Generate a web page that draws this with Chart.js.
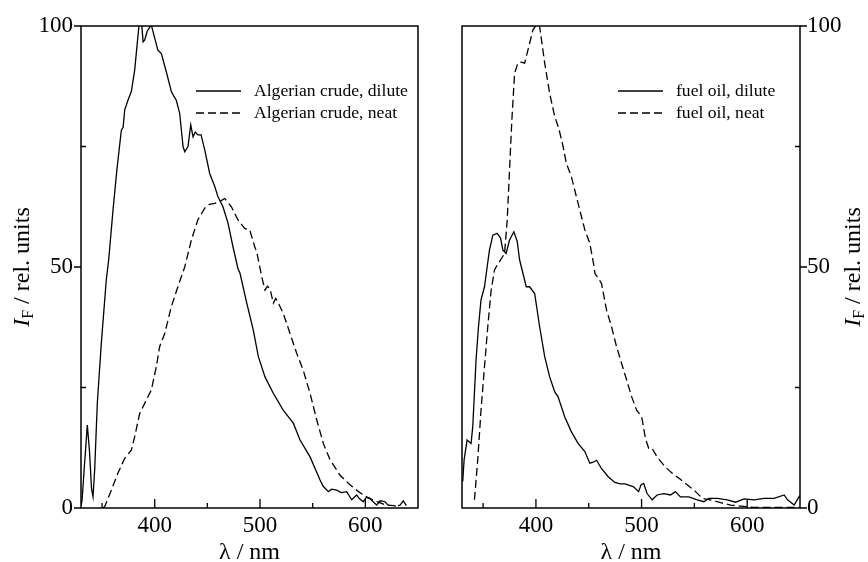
<!DOCTYPE html>
<html>
<head>
<meta charset="utf-8">
<script src="https://cdn.jsdelivr.net/npm/chart.js@4.4.1/dist/chart.umd.min.js"></script>
<style>
  html, body { margin: 0; padding: 0; background: #fff; }
  #wrap { position: relative; width: 868px; height: 562px; }
  .pane { position: absolute; top: 0; width: 434px; height: 562px; }
  #pl { left: 0; }
  #pr { left: 434px; }
</style>
</head>
<body>
<div id="wrap">
  <div class="pane" id="pl"><canvas id="cl" width="434" height="562"></canvas></div>
  <div class="pane" id="pr"><canvas id="cr" width="434" height="562"></canvas></div>
</div>
<script>
// ---------- data ----------
const xMajorTicks = [400, 500, 600];
const xMinorTicks = [350, 450, 550];
const yMajorTicks = [0, 50, 100];
const yMinorTicks = [25, 75];

const algDiluteX = [330,331,333,336,338,340,341.4,343,345.5,349.3,354,356.3,360.4,364,368.3,370,371.5,374.6,377.8,381,385,387,389,390.5,393,396.8,400,403,406.3,411,415.8,418,420.5,423.7,426.9,428.5,431.6,434.2,436.4,438.5,441,444,447.5,452.2,457,460,464.8,469.6,474.3,479,481,487.4,493.6,498.4,504.7,512.6,522,531.6,538,547.5,557,560,564.9,568,572.8,577,582.3,587,591.8,594,598,601,604,608,610.8,614,618.7,622,626,631,633,636,639];
const algDiluteY = [0.5,1.5,8,17.2,12,4,2.3,8,21.8,34.2,47.3,51.5,61.8,70,78.4,79,82.6,84.6,86.4,90.9,100,102,96.7,97.1,99,100.2,97.5,95,94.3,90.5,86.4,85.5,84.6,81.9,75,73.9,75,79.5,77,78,77.4,77.4,74.3,69.4,66.7,64.6,62.5,59.1,54.2,49.7,48.7,42.5,36.9,31.4,27.2,23.8,20.3,17.6,14.1,10.6,5.8,4.5,3.4,3.9,3.7,3.2,3.4,1.7,2.7,2.0,1.3,2.2,2.0,1.2,0.6,1.5,1.3,0.5,null,0.5,0.6,1.5,0.5];

const algNeatX = [351,352.5,358.8,365,371.5,377.8,381,385.7,390.5,396.8,401.5,404.7,409.5,415.8,422,428.5,434.8,441,447.5,452,457,461.7,466.5,469,472.8,479,485.4,490.2,495,497,501.6,504.7,507,509.5,512.6,515,517.4,522,528.5,534.8,541,547.5,553.8,560.1,566.5,576,585.5,593.4,601.3,611,620,627,632];
const algNeatY = [0,0.3,3.7,7.2,10.3,12,14.8,19.6,21.7,24.5,29.3,33.5,36.2,41.8,45.9,50,55.6,59.8,62.2,63,63.2,63.6,64.2,63.5,62.5,59.8,58,57.7,54.2,53,48,45.2,46,45.5,42.5,43.5,42.5,40.4,36.2,32.1,28.6,23.8,18.3,13.4,10,6.8,4.8,3.4,2.3,1.3,0.6,0.5,0.2];

const fuelDiluteX = [330.7,332,334.8,338.6,340.2,343.3,345.6,348,351.3,353.8,356,359.2,363.3,366.5,368.7,371.8,375,379.1,382.3,384.5,387.7,390.8,394,398.8,403.5,408.3,413,417.8,420.9,427.3,433.6,439.9,446.3,451,454.2,457.4,462,468.4,474.8,479.8,484.3,492.5,497.2,499.5,502,505.2,510,514.7,521,527.4,532,536.8,544.7,552.7,559,563.7,571.7,581.2,589.1,597,606.5,616,625.5,635,638.2,644.5,649,650];
const fuelDiluteY = [5.5,10,14.1,13.4,16.9,30.7,37.6,43.2,45.9,50,53.5,56.6,57,56,53.5,52.8,55.6,57.3,55.3,51.5,48.7,45.9,45.9,44.5,37.6,31.4,27.2,24.1,23.1,18.9,15.8,13.4,11.7,9.3,9.5,9.9,8.2,6.5,5.3,5.0,5.0,4.4,3.4,4.8,5.1,3.0,1.7,2.7,3.0,2.7,3.4,2.3,2.3,1.7,1.3,2.0,2.0,1.7,1.2,1.9,1.7,2.0,2.0,2.7,1.7,0.6,2.3,2.6];

const fuelNeatX = [341.8,344.9,348,351.3,354.4,357.6,360.8,362.3,365.5,370.3,372.8,375,377.2,379.8,382.9,386,389.3,392.4,397.2,401.3,403.5,408.3,413,417.8,421.6,425.7,428.8,433.6,439.9,446.3,451,455.1,455.8,462.1,466.8,471.6,476.3,481.1,485.8,490.6,495.3,498.8,500.4,503.6,506.7,509.9,514.7,521,527.4,535.2,543.2,551.1,557.5,565,574.9,584.3,593.8,606.5,650];
const fuelNeatY = [1.7,10,20.3,29.3,37.6,45.2,49.4,50,51.1,52.8,59.8,70.1,80.5,90.2,92.3,92.5,92.3,95,99.2,100.5,99.9,92.3,86,81.2,78.8,75,71.5,68.7,63.2,57.7,54.9,50,48.7,46.6,41.1,37.6,33.5,30,26.6,23.1,20.3,19.3,18.6,14.5,12.4,12.4,10.6,8.9,7.5,6.2,4.8,3.4,2.0,1.7,1.1,0.6,0.4,0.1,0.1];

const leftLabels = ['Algerian crude, dilute', 'Algerian crude, neat'];
const rightLabels = ['fuel oil, dilute', 'fuel oil, neat'];

// ---------- helpers ----------
const SERIF = '"Liberation Serif", "DejaVu Serif", serif';
function pts(xs, ys) { return xs.map((x, i) => ({ x: x, y: ys[i] })); }

function dataset(label, xs, ys, dashed) {
  return {
    label: label,
    data: pts(xs, ys),
    showLine: true,
    borderColor: '#000',
    backgroundColor: '#000',
    borderWidth: 1.3,
    borderDash: dashed ? [8, 4] : [],
    pointRadius: 0,
    tension: 0,
    spanGaps: false
  };
}

function framePlugin(side, legendX) {
  return {
    id: 'frame_' + side,
    afterDatasetsDraw(chart) {
      const ctx = chart.ctx;
      const a = chart.chartArea;
      const xs = chart.scales.x, ys = chart.scales.y;
      ctx.save();
      ctx.strokeStyle = '#000';
      ctx.lineWidth = 1.5;
      ctx.setLineDash([]);
      ctx.strokeRect(a.left, a.top, a.right - a.left, a.bottom - a.top);
      ctx.lineWidth = 1.3;
      ctx.beginPath();
      xMajorTicks.forEach(v => { const p = xs.getPixelForValue(v); ctx.moveTo(p, a.bottom); ctx.lineTo(p, a.bottom - 9); });
      xMinorTicks.forEach(v => { const p = xs.getPixelForValue(v); ctx.moveTo(p, a.bottom); ctx.lineTo(p, a.bottom - 5); });
      const ax = side === 'left' ? a.left : a.right;
      const dir = side === 'left' ? -1 : 1;
      yMajorTicks.forEach(v => { const p = ys.getPixelForValue(v); ctx.moveTo(ax, p); ctx.lineTo(ax + dir * 7, p); });
      yMinorTicks.forEach(v => { const p = ys.getPixelForValue(v); ctx.moveTo(ax, p); ctx.lineTo(ax - dir * 5, p); });
      ctx.stroke();

      // legend
      ctx.fillStyle = '#000';
      ctx.font = '17.6px ' + SERIF;
      ctx.textBaseline = 'middle';
      ctx.textAlign = 'left';
      chart.data.datasets.forEach((ds, i) => {
        const y = 91 + i * 22;
        ctx.beginPath();
        ctx.setLineDash(ds.borderDash);
        ctx.lineWidth = 1.3;
        ctx.moveTo(legendX, y);
        ctx.lineTo(legendX + 45, y);
        ctx.stroke();
        ctx.setLineDash([]);
        ctx.fillText(ds.label, legendX + 58, y);
      });

      // x title
      ctx.font = '24px ' + SERIF;
      ctx.textAlign = 'center';
      ctx.textBaseline = 'alphabetic';
      ctx.fillText('λ / nm', (a.left + a.right) / 2, 559);

      // y title
      const cy = (a.top + a.bottom) / 2;
      const bx = side === 'left' ? 29 : 426;
      ctx.translate(bx, cy);
      ctx.rotate(-Math.PI / 2);
      const fI = 'italic 24px ' + SERIF, fSub = '16px ' + SERIF, fMain = '24px ' + SERIF;
      const rest = ' / rel. units';
      ctx.font = fI; const wI = ctx.measureText('I').width;
      ctx.font = fSub; const wF = ctx.measureText('F').width;
      ctx.font = fMain; const wR = ctx.measureText(rest).width;
      let x0 = -(wI + wF + wR) / 2;
      ctx.textAlign = 'left';
      ctx.font = fI; ctx.fillText('I', x0, 0); x0 += wI;
      ctx.font = fSub; ctx.fillText('F', x0, 4); x0 += wF;
      ctx.font = fMain; ctx.fillText(rest, x0, 0);
      ctx.restore();
    }
  };
}

function makeChart(id, side, datasets, legendX) {
  const tickFont = { family: SERIF, size: 23, lineHeight: 1 };
  return new Chart(document.getElementById(id), {
    type: 'scatter',
    data: { datasets: datasets },
    options: {
      responsive: false,
      animation: false,
      events: [],
      layout: { padding: side === 'left' ? { left: 0, right: 16, top: 26, bottom: 0 } : { left: 28, right: 0, top: 26, bottom: 0 } },
      plugins: { legend: { display: false }, tooltip: { enabled: false }, title: { display: false } },
      scales: {
        x: {
          type: 'linear', min: 330, max: 650, position: 'bottom',
          grid: { display: false, drawTicks: false, tickLength: 0 }, border: { display: false },
          afterBuildTicks: s => { s.ticks = xMajorTicks.map(v => ({ value: v })); },
          afterFit: s => { s.height = 54; },
          ticks: { color: '#000', font: tickFont, padding: 6, maxRotation: 0, autoSkip: false, callback: v => String(v) }
        },
        y: {
          type: 'linear', min: 0, max: 100, position: side,
          grid: { display: false, drawTicks: false, tickLength: 0 }, border: { display: false },
          afterBuildTicks: s => { s.ticks = yMajorTicks.map(v => ({ value: v })); },
          afterFit: s => { s.width = side === 'left' ? 81 : 68; },
          ticks: { color: '#000', font: tickFont, padding: side === 'left' ? 8 : 7, autoSkip: false, callback: v => String(v) }
        }
      }
    },
    plugins: [framePlugin(side, legendX)]
  });
}

makeChart('cl', 'left', [
  dataset(leftLabels[0], algDiluteX, algDiluteY, false),
  dataset(leftLabels[1], algNeatX, algNeatY, true)
], 196);

makeChart('cr', 'right', [
  dataset(rightLabels[0], fuelDiluteX, fuelDiluteY, false),
  dataset(rightLabels[1], fuelNeatX, fuelNeatY, true)
], 184);
</script>
</body>
</html>
